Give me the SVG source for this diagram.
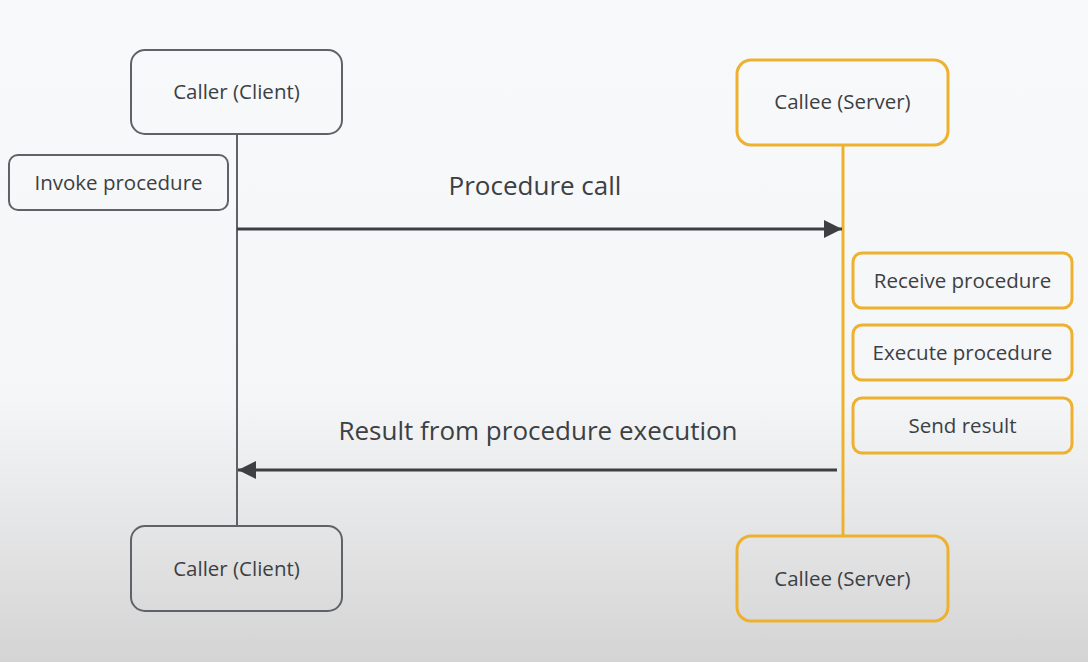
<svg xmlns="http://www.w3.org/2000/svg" width="1088" height="662" viewBox="0 0 1088 662">
<defs>
<linearGradient id="bg" x1="0" y1="0" x2="0" y2="1">
<stop offset="0" stop-color="#f8f9fa"/>
<stop offset="0.6" stop-color="#f5f6f7"/>
<stop offset="1" stop-color="#d4d4d5"/>
</linearGradient>
<marker id="ah" viewBox="0 0 10 10" refX="10" refY="5" markerWidth="26" markerHeight="18" markerUnits="userSpaceOnUse" orient="auto">
<path d="M0,0 L10,5 L0,10 Z" fill="#3c4043"/>
</marker>
<style>
.g{fill:none;stroke:#5f6368;stroke-width:2}
.o{fill:none;stroke:#eeb12f;stroke-width:3}
.t{font-family:"Open Sans","Liberation Sans",sans-serif;font-size:20.5px;fill:#3c4043;text-anchor:middle}
.big{font-family:"Open Sans","Liberation Sans",sans-serif;font-size:26px;fill:#3c4043;text-anchor:middle}
</style>
</defs>
<rect width="1088" height="662" fill="url(#bg)"/>
<g id="connectors">
<line x1="237" y1="135" x2="237" y2="526" stroke="#5f6368" stroke-width="2"/>
<line x1="843" y1="146" x2="843" y2="535" stroke="#eeb12f" stroke-width="3"/>
<line x1="237" y1="229" x2="842" y2="229" stroke="#3c4043" stroke-width="3" marker-end="url(#ah)"/>
<line x1="837" y1="470" x2="238" y2="470" stroke="#3c4043" stroke-width="3" marker-end="url(#ah)"/>
<text class="big" x="535" y="195">Procedure call</text>
<text class="big" x="538" y="440">Result from procedure execution</text>
</g>
<g id="caller-top">
<rect class="g" x="131" y="50" width="211" height="84" rx="14"/>
<text class="t" x="236.5" y="99">Caller (Client)</text>
</g>
<g id="invoke">
<rect class="g" x="9" y="155" width="219" height="55" rx="9"/>
<text class="t" x="118.5" y="190">Invoke procedure</text>
</g>
<g id="callee-top">
<rect class="o" x="737" y="60" width="211" height="85" rx="14"/>
<text class="t" x="842.5" y="109">Callee (Server)</text>
</g>
<g id="receive">
<rect class="o" x="853" y="253" width="219" height="55" rx="9"/>
<text class="t" x="962.5" y="288">Receive procedure</text>
</g>
<g id="execute">
<rect class="o" x="853" y="325" width="219" height="55" rx="9"/>
<text class="t" x="962.5" y="360">Execute procedure</text>
</g>
<g id="send">
<rect class="o" x="853" y="398" width="219" height="55" rx="9"/>
<text class="t" x="962.5" y="433">Send result</text>
</g>
<g id="caller-bottom">
<rect class="g" x="131" y="526" width="211" height="85" rx="14"/>
<text class="t" x="236.5" y="576">Caller (Client)</text>
</g>
<g id="callee-bottom">
<rect class="o" x="737" y="536" width="211" height="85" rx="14"/>
<text class="t" x="842.5" y="586">Callee (Server)</text>
</g>
</svg>
